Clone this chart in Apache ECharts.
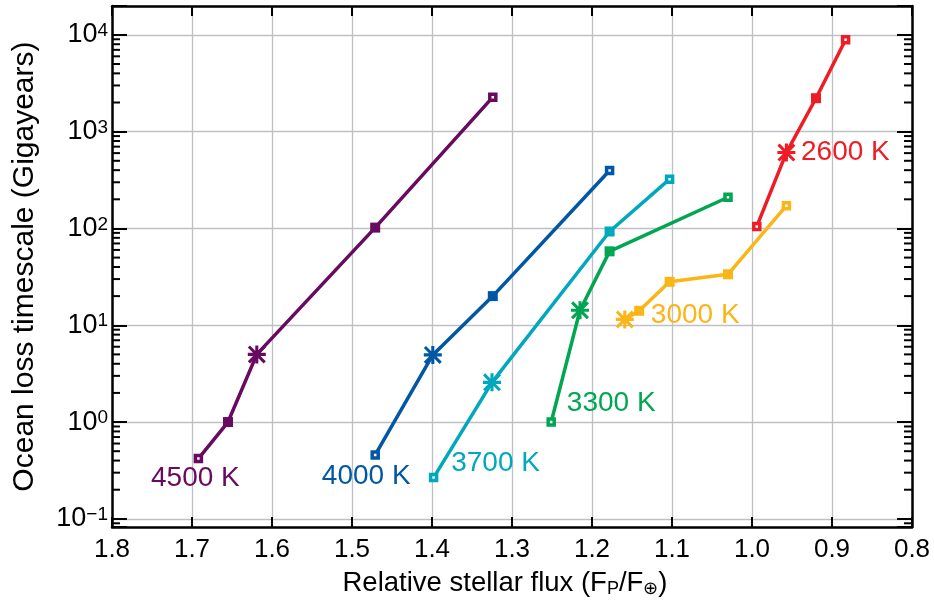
<!DOCTYPE html>
<html><head><meta charset="utf-8">
<script src="https://cdn.jsdelivr.net/npm/echarts@6/dist/echarts.min.js"></script>
<style>html,body{margin:0;padding:0;background:#fff}#c{width:934px;height:603px}</style>
</head><body><div id="c"></div>
<script>
// ---------- data ----------
const seriesNames = ['4500 K', '4000 K', '3700 K', '3300 K', '3000 K', '2600 K'];
const flux4500 = [1.692, 1.655, 1.619, 1.471, 1.324];
const time4500 = [0.42, 1.0, 5.0, 102, 2270];
const flux4000 = [1.471, 1.399, 1.324, 1.178];
const time4000 = [0.457, 4.94, 20.0, 397];
const flux3700 = [1.398, 1.325, 1.178, 1.103];
const time3700 = [0.267, 2.57, 93, 323];
const flux3300 = [1.251, 1.215, 1.178, 1.030];
const time3300 = [1.0, 14.3, 58, 210];
const flux3000 = [1.159, 1.141, 1.103, 1.030, 0.957];
const time3000 = [11.5, 14.1, 28.1, 33.6, 172];
const flux2600 = [0.994, 0.957, 0.920, 0.883];
const time2600 = [105, 608, 2215, 8890];
// index of the point marked with an asterisk in each series
const starIndex = [2, 1, 1, 1, 0, 1];
// axis ticks
const xTickValues = [1.8, 1.7, 1.6, 1.5, 1.4, 1.3, 1.2, 1.1, 1.0, 0.9, 0.8];
const yDecades = [-1, 0, 1, 2, 3, 4];
const minorMantissas = [2, 3, 4, 5, 6, 7, 8, 9];

// ---------- styles ----------
const fluxes = [flux4500, flux4000, flux3700, flux3300, flux3000, flux2600];
const times = [time4500, time4000, time3700, time3300, time3000, time2600];
const colors = ['#680a60', '#0057a6', '#00a8be', '#00a651', '#fbb517', '#ee1c25'];
// label anchor: point index and pixel offset from that point
const labelAnchor = [
  {index: 0, offset: [-3, 20]},
  {index: 0, offset: [-9, 21]},
  {index: 0, offset: [62, -14]},
  {index: 0, offset: [60, -19]},
  {index: 1, offset: [56, 4]},
  {index: 1, offset: [59, 0]}
];
const FONT = '"Liberation Sans", Arial, Helvetica, sans-serif';
const YMIN = 0.0822, YMAX = 19860, XMIN = 0.8, XMAX = 1.8;
const STAR = 'path://M8.3,0 L11.7,0 L11.7,20 L8.3,20 Z M0,8.3 L20,8.3 L20,11.7 L0,11.7 Z M0,2.4 L2.4,0 L20,17.6 L17.6,20 Z M17.6,0 L20,2.4 L2.4,20 L0,17.6 Z';

const minorValues = [];
[-2].concat(yDecades).forEach(d => minorMantissas.forEach(m => {
  const v = m * Math.pow(10, d);
  if (v > YMIN && v < YMAX) minorValues.push(v);
}));

function lineSeries(i) {
  const c = colors[i];
  const fx = fluxes[i], tm = times[i];
  const data = fx.map((x, j) => {
    const item = {value: [x, tm[j]]};
    if (j === starIndex[i]) {
      item.symbol = STAR; item.symbolSize = 18;
      item.itemStyle = {color: c, borderWidth: 0};
    } else if (j === 0 || j === fx.length - 1) {
      item.symbol = 'rect'; item.symbolSize = 6;
      item.itemStyle = {color: '#fff', borderColor: c, borderWidth: 3.5};
    } else {
      item.symbol = 'rect'; item.symbolSize = 10;
      item.itemStyle = {color: c, borderWidth: 0};
    }
    if (j === labelAnchor[i].index) {
      item.label = {
        show: true, position: 'inside', offset: labelAnchor[i].offset,
        formatter: seriesNames[i], color: c, fontSize: 28, fontFamily: FONT,
        align: 'center', verticalAlign: 'middle'
      };
    }
    return item;
  });
  return {
    name: seriesNames[i], type: 'line', data: data,
    xAxisIndex: 0, yAxisIndex: 0,
    lineStyle: {color: c, width: 3.5}, itemStyle: {color: c},
    symbol: 'rect', showSymbol: true, z: 10 + i,
    emphasis: {disabled: true}
  };
}

function yLabel(v) {
  const lg = Math.log10(v);
  const r = Math.round(lg);
  if (Math.abs(lg - r) > 1e-6) return '';
  return '10{s|' + (r < 0 ? '\u2212' + (-r) : r) + '}';
}

const chart = echarts.init(document.getElementById('c'), null, {renderer: 'canvas'});
chart.setOption({
  animation: false,
  backgroundColor: '#fff',
  textStyle: {fontFamily: FONT},
  grid: {left: 112, right: 22, top: 6, bottom: 73},
  xAxis: [{
    type: 'value', min: XMIN, max: XMAX, interval: 0.1, inverse: true,
    position: 'bottom',
    axisLine: {show: true, onZero: false, lineStyle: {color: '#000', width: 2.5}},
    axisTick: {show: true, inside: true, length: 10, lineStyle: {color: '#000', width: 2}},
    splitLine: {show: true, lineStyle: {color: '#bfbfc6', width: 1.3}},
    axisLabel: {
      fontSize: 26, color: '#000', margin: 10, fontFamily: FONT,
      formatter: v => (xTickValues.some(t => Math.abs(t - v) < 1e-6) ? v.toFixed(1) : '')
    },
    name: 'Relative stellar flux (F{sub|P}/F{sub|\u2295})',
    nameLocation: 'middle', nameGap: 33,
    nameTextStyle: {
      fontSize: 27.5, color: '#000', fontFamily: FONT, padding: [0, 14, 0, 0],
      lineHeight: 30, verticalAlign: 'top',
      rich: {sub: {fontSize: 18, lineHeight: 10, verticalAlign: 'bottom', color: '#000', fontFamily: FONT}}
    }
  }, {
    type: 'value', min: XMIN, max: XMAX, interval: 0.1, inverse: true,
    position: 'top',
    axisLine: {show: true, onZero: false, lineStyle: {color: '#000', width: 2.5}},
    axisTick: {show: true, inside: true, length: 10, lineStyle: {color: '#000', width: 2}},
    splitLine: {show: false}, axisLabel: {show: false}
  }],
  yAxis: [{
    type: 'log', logBase: 10, min: YMIN, max: YMAX, position: 'left',
    axisLine: {show: true, onZero: false, lineStyle: {color: '#000', width: 2.5}},
    axisTick: {show: true, inside: true, length: 15, lineStyle: {color: '#000', width: 2}},
    splitLine: {show: true, lineStyle: {color: '#bfbfc6', width: 1.3}},
    axisLabel: {
      fontSize: 27, color: '#000', margin: 4, fontFamily: FONT, lineHeight: 27,
      formatter: yLabel,
      rich: {s: {fontSize: 19, lineHeight: 10, verticalAlign: 'top', color: '#000', fontFamily: FONT}}
    },
    name: 'Ocean loss timescale (Gigayears)',
    nameLocation: 'middle', nameGap: 72,
    nameTextStyle: {fontSize: 30, color: '#000', fontFamily: FONT}
  }, {
    type: 'log', logBase: 10, min: YMIN, max: YMAX, position: 'right',
    axisLine: {show: true, onZero: false, lineStyle: {color: '#000', width: 2.5}},
    axisTick: {show: true, inside: true, length: 15, lineStyle: {color: '#000', width: 2}},
    splitLine: {show: false}, axisLabel: {show: false}
  }],
  series: [{
    type: 'custom', xAxisIndex: 0, yAxisIndex: 0, silent: true, z: 3,
    data: minorValues.map(v => [1.3, v]),
    renderItem: function (params, api) {
      const y = api.coord([1.3, api.value(1)])[1];
      const cs = params.coordSys;
      const st = {stroke: '#000', lineWidth: 2};
      return {type: 'group', children: [
        {type: 'line', shape: {x1: cs.x, y1: y, x2: cs.x + 8, y2: y}, style: st},
        {type: 'line', shape: {x1: cs.x + cs.width - 8, y1: y, x2: cs.x + cs.width, y2: y}, style: st}
      ]};
    }
  }].concat(seriesNames.map((n, i) => lineSeries(i)))
});
</script>
</body></html>
